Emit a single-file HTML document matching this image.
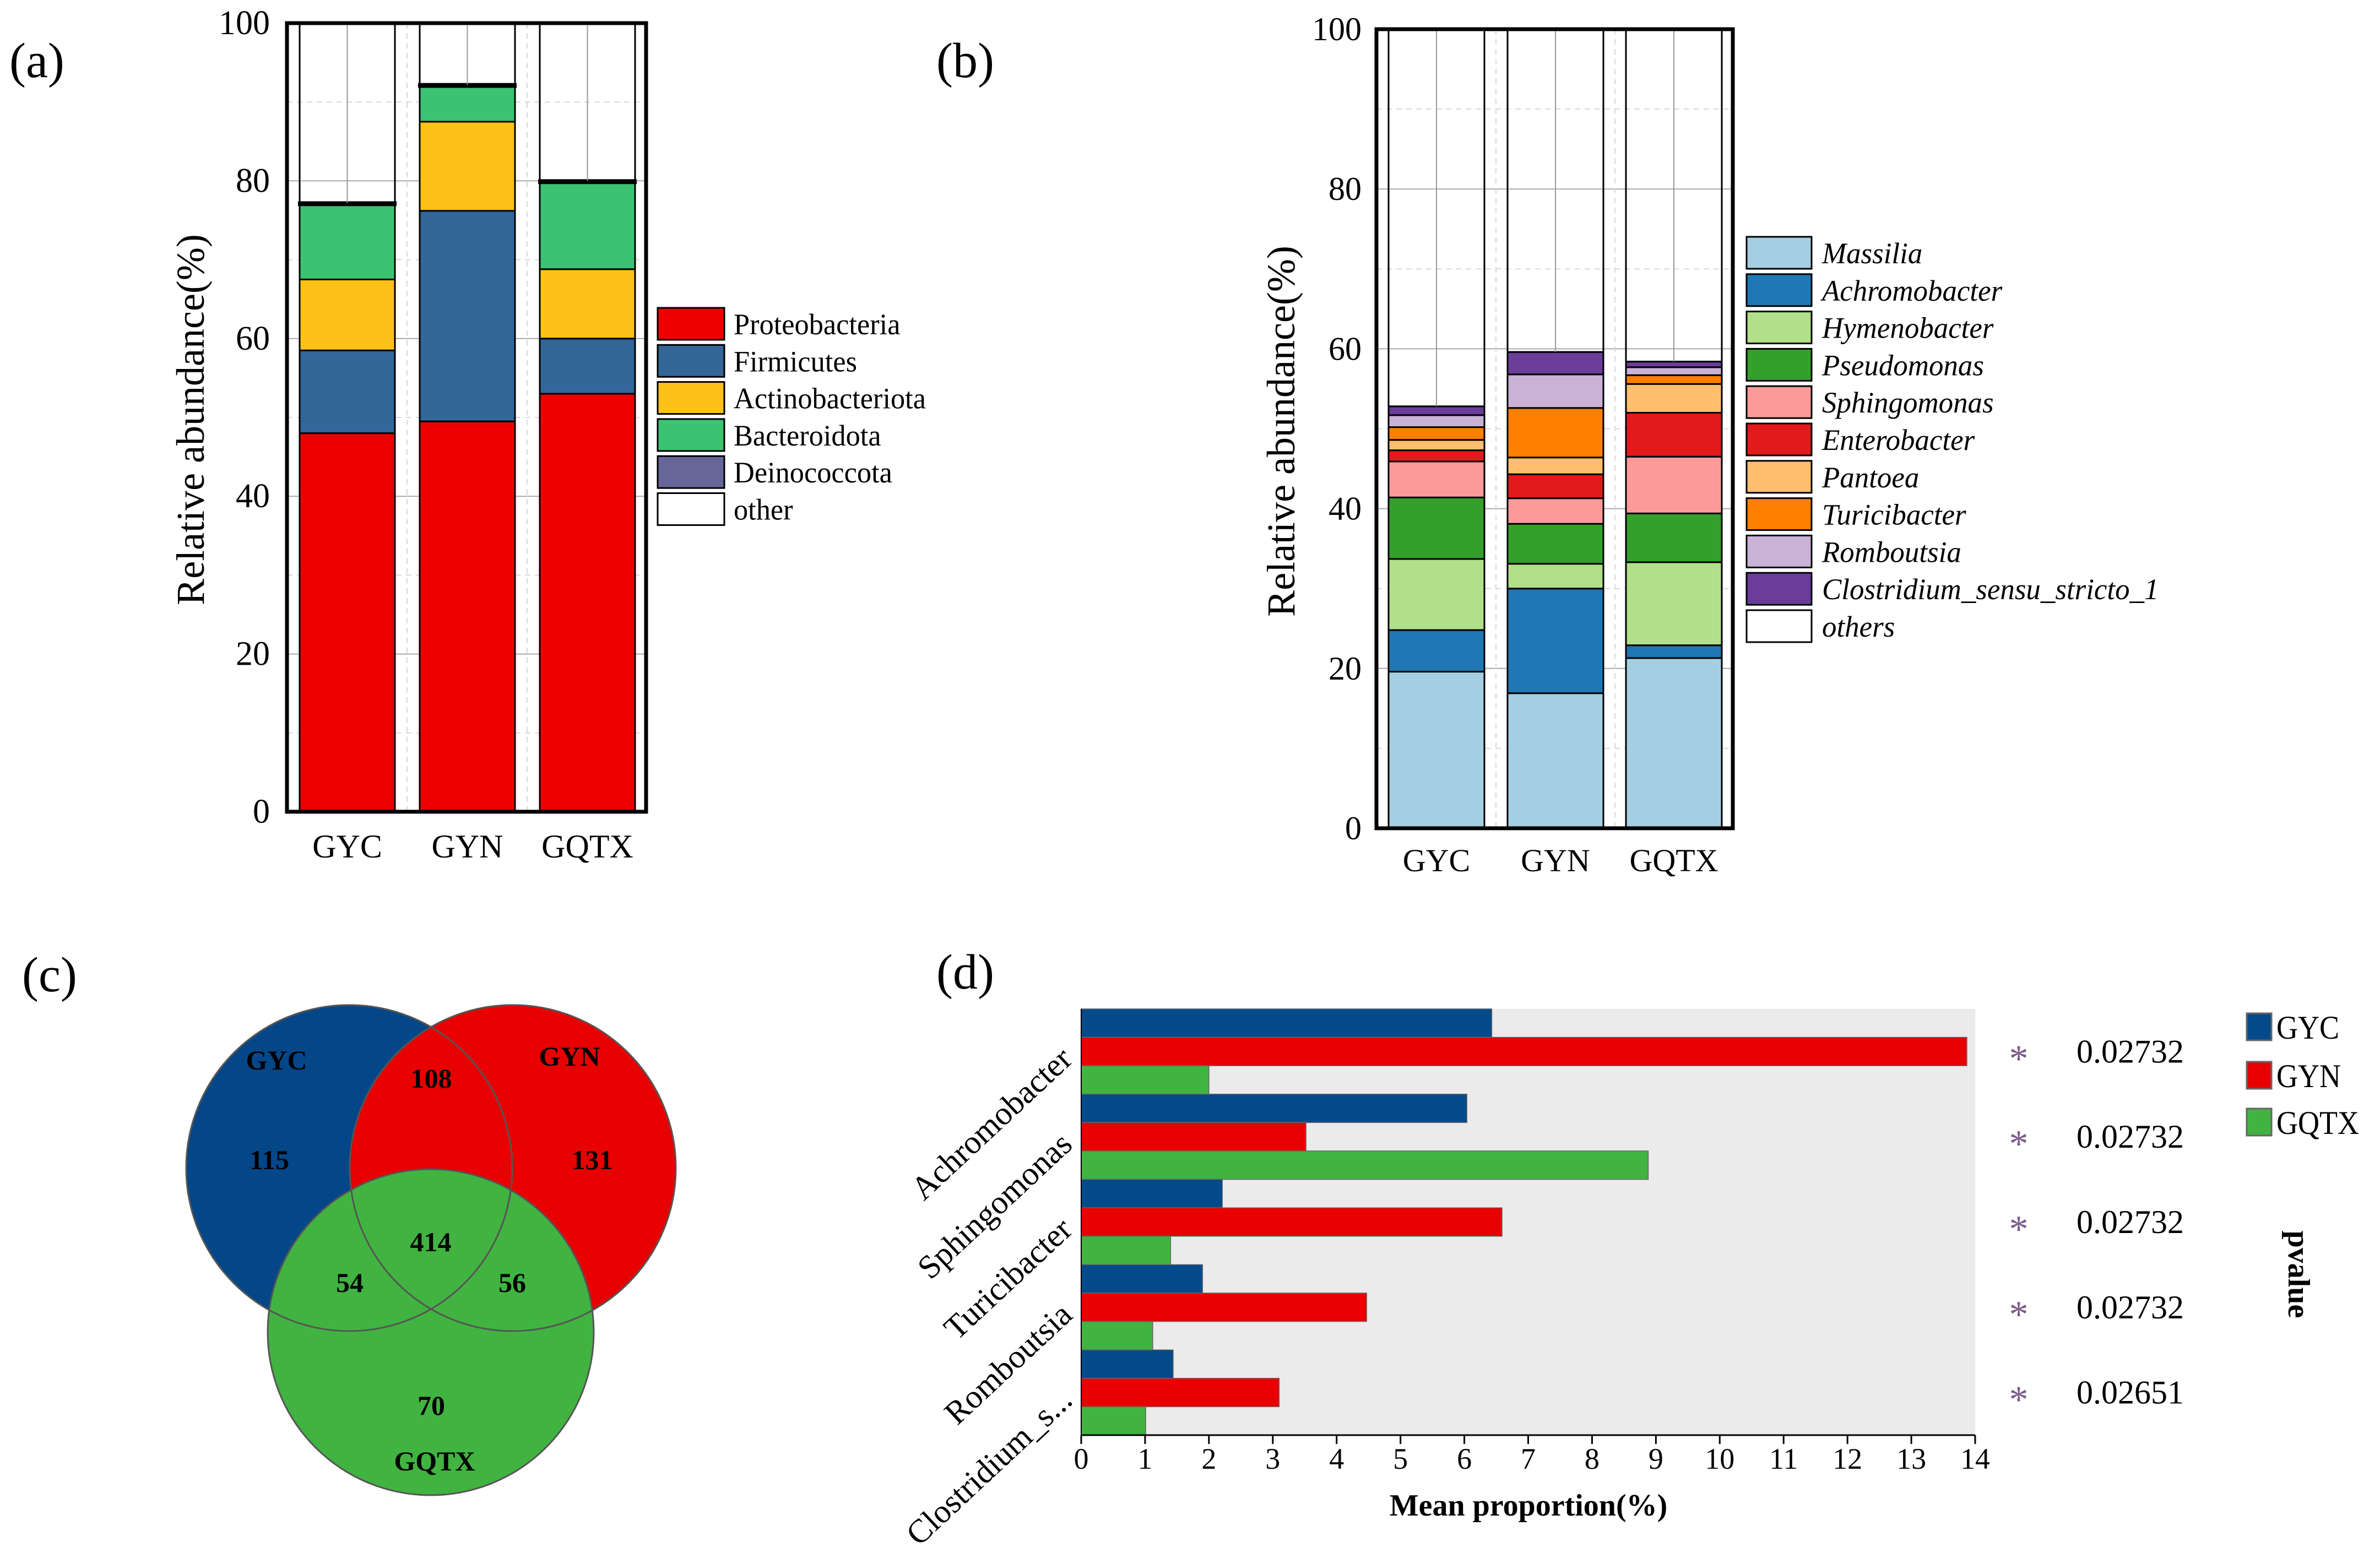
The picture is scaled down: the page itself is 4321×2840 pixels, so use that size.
<!DOCTYPE html>
<html><head><meta charset="utf-8">
<style>
html,body{margin:0;padding:0;background:#fff;}
svg{display:block;font-family:"Liberation Serif",serif;}
</style></head>
<body>
<svg id="fig" width="4321" height="2840" viewBox="0 0 4321 2840" xmlns="http://www.w3.org/2000/svg" font-family="Liberation Serif, serif">
<rect width="4321" height="2840" fill="#fff"/>
<text x="17" y="140" font-size="90">(a)</text>
<text x="1700" y="140" font-size="90">(b)</text>
<text x="40" y="1800" font-size="90">(c)</text>
<text x="1700" y="1795" font-size="90">(d)</text>
<g id="pa"></g>
<g id="pb"></g>
<g id="pc"></g>
<g id="pd"></g>
</svg>
<script>
const NS="http://www.w3.org/2000/svg";
function mk(parent,tag,attrs,text){const e=document.createElementNS(NS,tag);for(const k in attrs)e.setAttribute(k,attrs[k]);if(text!==undefined)e.textContent=text;parent.appendChild(e);return e;}

// ---------- Panel (a) data ----------
const aGroups=["GYC","GYN","GQTX"];
const aTaxa=["Proteobacteria","Firmicutes","Actinobacteriota","Bacteroidota","Deinococcota","other"];
const aColors=["#ee0000","#336699","#fdc217","#3cc372","#666699","#ffffff"];
const aProteo=[48.0,49.5,53.0];
const aFirm=[10.5,26.7,7.0];
const aActino=[9.0,11.3,8.8];
const aBact=[9.5,4.5,11.0];
const aDeino=[0.2,0.2,0.2];
const aTicks=[0,20,40,60,80,100];

// ---------- Panel (b) data ----------
const bGroups=["GYC","GYN","GQTX"];
const bTaxa=["Massilia","Achromobacter","Hymenobacter","Pseudomonas","Sphingomonas","Enterobacter","Pantoea","Turicibacter","Romboutsia","Clostridium_sensu_stricto_1","others"];
const bColors=["#a6cee3","#1f78b4","#b2df8a","#33a02c","#fb9a99","#e31a1c","#fdbf6f","#ff7f00","#cab2d6","#6a3d9a","#ffffff"];
const bMassilia=[19.6,16.9,21.3];
const bAchro=[5.2,13.1,1.6];
const bHymeno=[8.9,3.1,10.4];
const bPseudo=[7.7,5.0,6.1];
const bSphingo=[4.5,3.2,7.1];
const bEntero=[1.4,3.0,5.5];
const bPantoea=[1.3,2.1,3.6];
const bTurici=[1.6,6.2,1.1];
const bRombo=[1.5,4.2,1.0];
const bClost=[1.1,2.8,0.7];
const bTicks=[0,20,40,60,80,100];

// ---------- Panel (c) data ----------
const vennSets=["GYC","GYN","GQTX"];
const vennCounts=[115,131,70,108,54,56,414];

// ---------- Panel (d) data ----------
const dCats=["Achromobacter","Sphingomonas","Turicibacter","Romboutsia","Clostridium_s..."];
const dGYC=[6.43,6.04,2.21,1.90,1.44];
const dGYN=[13.87,3.52,6.59,4.47,3.10];
const dGQTX=[2.00,8.88,1.40,1.12,1.01];
const dP=["0.02732","0.02732","0.02732","0.02732","0.02651"];
const dTicks=[0,1,2,3,4,5,6,7,8,9,10,11,12,13,14];

// ===== Panel A =====
(function(){
  const g=document.getElementById('pa');
  const L=521,R=1173,T=42,B=1474;
  const y=v=>B-(B-T)*v/100;
  const barX=[544,762,980],bw=173;
  [10,30,50,70,90].forEach(v=>{const l=mk(g,'line',{x1:L,x2:R,y1:y(v),y2:y(v),stroke:'#d8d8d8','stroke-width':2,'stroke-dasharray':'10,8'});});
  [20,40,60,80].forEach(v=>{const l=mk(g,'line',{x1:L,x2:R,y1:y(v),y2:y(v),stroke:'#aaa','stroke-width':2});});
  const series=[aProteo,aFirm,aActino,aBact,aDeino];
  aGroups.forEach((gn,i)=>{
    let acc=0;
    series.forEach((s,k)=>{
      const r=mk(g,'rect',{x:barX[i],y:y(acc+s[i]),width:bw,height:y(acc)-y(acc+s[i]),fill:aColors[k],stroke:'#000','stroke-width':k==4?6:3});
      
      
      acc+=s[i];
    });
    const o=mk(g,'rect',{x:barX[i],y:T,width:bw,height:y(acc)-T,fill:'none',stroke:'#000','stroke-width':3});
    
    
    const c=barX[i]+bw/2;
    const vl=mk(g,'line',{x1:c,x2:c,y1:T,y2:y(acc),stroke:'#999','stroke-width':2});
    
    
    const xl=mk(g,'text',{x:c,y:1557,'font-size':60,'text-anchor':'middle'},gn);
    
    
  });
  [739,957].forEach(x=>{const l=mk(g,'line',{x1:x,x2:x,y1:T,y2:B,stroke:'#d8d8d8','stroke-width':2,'stroke-dasharray':'10,8'});});
  const f=mk(g,'rect',{x:L,y:T,width:R-L,height:B-T,fill:'none',stroke:'#000','stroke-width':7});
  
  
  aTicks.forEach(v=>{const t=mk(g,'text',{x:490,y:y(v)+20,'font-size':62,'text-anchor':'end'},String(v));});
  const yt=mk(g,'text',{x:0,y:0,'font-size':72,'text-anchor':'middle',transform:'translate(370,762) rotate(-90)'},'Relative abundance(%)');
  
  
  aTaxa.forEach((t,k)=>{
    const yy=559+67.3*k;
    const s=mk(g,'rect',{x:1194,y:yy,width:121,height:58,fill:aColors[k],stroke:'#000','stroke-width':3});
    
    
    const tx=mk(g,'text',{x:1332,y:yy+48,'font-size':54,transform:'translate(1332,0) scale(0.97,1) translate(-1332,0)'},t);
    
    
  });
})();

// ===== Panel B =====
(function(){
  const g=document.getElementById('pb');
  const L=2499,R=3146,T=53,B=1504;
  const y=v=>B-(B-T)*v/100;
  const barX=[2521,2737,2952],bw=174;
  [10,30,50,70,90].forEach(v=>{const l=mk(g,'line',{x1:L,x2:R,y1:y(v),y2:y(v),stroke:'#d8d8d8','stroke-width':2,'stroke-dasharray':'10,8'});});
  [20,40,60,80].forEach(v=>{const l=mk(g,'line',{x1:L,x2:R,y1:y(v),y2:y(v),stroke:'#aaa','stroke-width':2});});
  const series=[bMassilia,bAchro,bHymeno,bPseudo,bSphingo,bEntero,bPantoea,bTurici,bRombo,bClost];
  bGroups.forEach((gn,i)=>{
    let acc=0;
    series.forEach((s,k)=>{
      const r=mk(g,'rect',{x:barX[i],y:y(acc+s[i]),width:bw,height:y(acc)-y(acc+s[i]),fill:bColors[k],stroke:'#000','stroke-width':3});
      
      
      acc+=s[i];
    });
    const o=mk(g,'rect',{x:barX[i],y:T,width:bw,height:y(acc)-T,fill:'none',stroke:'#000','stroke-width':3});
    
    
    const c=barX[i]+bw/2;
    const vl=mk(g,'line',{x1:c,x2:c,y1:T,y2:y(acc),stroke:'#999','stroke-width':2});
    
    
    const xl=mk(g,'text',{x:c,y:1582,'font-size':58,'text-anchor':'middle'},gn);
    
    
  });
  [2716,2932].forEach(x=>{const l=mk(g,'line',{x1:x,x2:x,y1:T,y2:B,stroke:'#d8d8d8','stroke-width':2,'stroke-dasharray':'10,8'});});
  const f=mk(g,'rect',{x:L,y:T,width:R-L,height:B-T,fill:'none',stroke:'#000','stroke-width':7});
  
  
  bTicks.forEach(v=>{const t=mk(g,'text',{x:2472,y:y(v)+20,'font-size':60,'text-anchor':'end'},String(v));});
  const yt=mk(g,'text',{x:0,y:0,'font-size':72,'text-anchor':'middle',transform:'translate(2350,783) rotate(-90)'},'Relative abundance(%)');
  
  
  bTaxa.forEach((t,k)=>{
    const yy=430+67.8*k;
    const s=mk(g,'rect',{x:3171,y:yy,width:118,height:58,fill:bColors[k],stroke:'#000','stroke-width':3});
    
    
    const tx=mk(g,'text',{x:3308,y:yy+48,'font-size':54,'font-style':'italic',transform:'translate(3308,0) scale(0.98,1) translate(-3308,0)'},t);
    
    
  });
})();

// ===== Panel C (Venn) =====
(function(){
  const g=document.getElementById('pc');
  const circles=[{cx:634,cy:2121,fill:'#034789'},{cx:931,cy:2121,fill:'#e80000'},{cx:782,cy:2419,fill:'#41b341'}];
  const r=296;
  circles.forEach((c,i)=>{const e=mk(g,'circle',{cx:c.cx,cy:c.cy,r:r,fill:c.fill});});
  circles.forEach(c=>{const e=mk(g,'circle',{cx:c.cx,cy:c.cy,r:r,fill:'none',stroke:'#555','stroke-width':3});});
  const setPos=[[502,1925],[1034,1918],[789,2653]];
  vennSets.forEach((s,i)=>{const t=mk(g,'text',{x:setPos[i][0],y:setPos[i][1]+17,'font-size':50,'font-weight':'bold','text-anchor':'middle'},s);});
  const numPos=[[489,2106],[1075,2106],[783,2552],[783,1958],[635,2329],[930,2329],[782,2255]];
  vennCounts.forEach((n,i)=>{const t=mk(g,'text',{x:numPos[i][0],y:numPos[i][1]+17,'font-size':50,'font-weight':'bold','text-anchor':'middle'},String(n));});
})();

// ===== Panel D =====
(function(){
  const g=document.getElementById('pd');
  const L=1963,R=3586,T=1832,B=2606;
  const x=v=>L+(R-L)*v/14;
  const band=(B-T)/15;
  const bg=mk(g,'rect',{x:L,y:T,width:R-L,height:B-T,fill:'#ebebeb'});
  
  
  const cols=['#034a8a','#e80000','#41b340'];
  const ser=[dGYC,dGYN,dGQTX];
  const sn=['gyc','gyn','gqtx'];
  dCats.forEach((c,i)=>{
    ser.forEach((s,k)=>{
      const r=mk(g,'rect',{x:L,y:T+band*(i*3+k),width:x(s[i])-L,height:band,fill:cols[k],stroke:'#666','stroke-width':1.5});
      
      
    });
    const cy=T+band*(i*3+1.5);
    const lab=mk(g,'text',{x:0,y:0,'font-size':60,'text-anchor':'end',transform:`translate(1950,${cy+18}) rotate(-43)`},c);
    
    
    const st=mk(g,'text',{x:3665,y:cy+36,'font-size':70,'text-anchor':'middle',fill:'#7a5a8a'},'*');
    
    
    const pv=mk(g,'text',{x:3770,y:cy+20,'font-size':60},dP[i]);
    
    
  });
  const ax=mk(g,'line',{x1:L,x2:R,y1:B,y2:B,stroke:'#000','stroke-width':3});
  
  
  const ay=mk(g,'line',{x1:L,x2:L,y1:T,y2:B,stroke:'#000','stroke-width':2});
  
  
  dTicks.forEach(v=>{
    const tk=mk(g,'line',{x1:x(v),x2:x(v),y1:B,y2:B+16,stroke:'#000','stroke-width':3});
    
    
    const t=mk(g,'text',{x:x(v),y:2667,'font-size':54,'text-anchor':'middle'},String(v));
    
    
  });
  const xt=mk(g,'text',{x:2775,y:2752,'font-size':56,'font-weight':'bold','text-anchor':'middle'},'Mean proportion(%)');
  
  
  const pt=mk(g,'text',{x:0,y:0,'font-size':56,'font-weight':'bold','text-anchor':'middle',transform:'translate(4155,2314) rotate(90)'},'pvalue');
  
  
  const lg=['GYC','GYN','GQTX'];
  const ly=[1840,1928,2013];
  lg.forEach((n,k)=>{
    const s=mk(g,'rect',{x:4079,y:ly[k],width:45,height:49,fill:cols[k],stroke:'#666','stroke-width':3});
    
    
    const t=mk(g,'text',{x:4133,y:ly[k]+46,'font-size':60,transform:'translate(4133,0) scale(0.9,1) translate(-4133,0)'},n);
    
    
  });
})();
</script>
</body></html>
